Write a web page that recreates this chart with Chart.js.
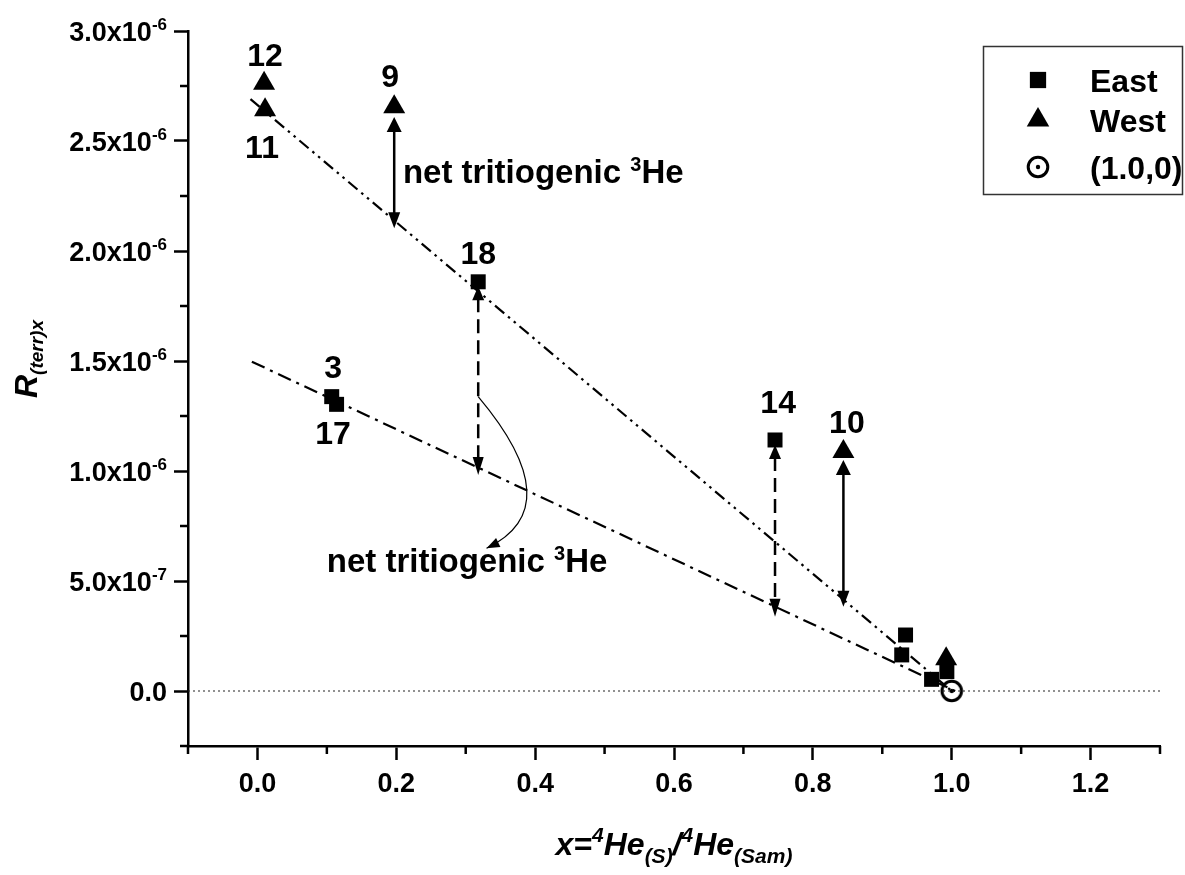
<!DOCTYPE html>
<html>
<head>
<meta charset="utf-8">
<script src="https://cdn.jsdelivr.net/npm/chart.js@4.4.0/dist/chart.umd.min.js"></script>
<style>
  html, body { margin: 0; padding: 0; background: #fff; }
</style>
</head>
<body>
<canvas id="chart" width="1185" height="875"></canvas>
<script>
const FONT = '"Liberation Sans", Arial, sans-serif';

// data
const eastX = [0.318, 0.107, 0.114, 0.7455, 0.9335, 0.928, 0.971, 0.993];
const eastY = [1.86e-6, 1.338e-6, 1.303e-6, 1.141e-6, 0.2545e-6, 0.164e-6, 0.053e-6, 0.088e-6];
const westX = [0.0096, 0.011, 0.197, 0.844, 0.992];
const westY = [2.762e-6, 2.641e-6, 2.655e-6, 1.088e-6, 0.146e-6];
const refX = [1.0];
const refY = [0];

// mixing lines
const upperLineX = [-0.01, 1.0];
const upperLineY = [2.69e-6, 0];
const lowerLineX = [-0.008, 1.005];
const lowerLineY = [1.497e-6, 0];
const zeroLineX = [-0.1, 1.3];
const zeroLineY = [0, 0];

// "net tritiogenic 3He" arrows
const solidArrowX = [0.197, 0.844];
const solidArrowTop = [2.609e-6, 1.05e-6];
const solidArrowBottom = [2.103e-6, 0.383e-6];
const dashArrowX = [0.318, 0.7455];
const dashArrowTop = [1.84e-6, 1.118e-6];
const dashArrowBottom = [0.982e-6, 0.338e-6];
const curveX = [0.318, 0.388, 0.330];
const curveY = [1.338e-6, 0.914e-6, 0.649e-6];

// sample numbers
const sampleLabels = ['12', '11', '9', '18', '3', '17', '14', '10'];
const sampleLabelX = [0.011, 0.0066, 0.191, 0.318, 0.109, 0.109, 0.750, 0.849];
const sampleLabelY = [2.891e-6, 2.473e-6, 2.80e-6, 1.995e-6, 1.473e-6, 1.177e-6, 1.314e-6, 1.223e-6];
const noteText = ['net tritiogenic ', '3', 'He'];
const noteX = [0.2096, 0.0998];
const noteY = [2.308e-6, 0.542e-6];

// axes
const xTickValues = [0, 0.2, 0.4, 0.6, 0.8, 1.0, 1.2];
const xTickLabels = ['0.0', '0.2', '0.4', '0.6', '0.8', '1.0', '1.2'];
const xMinorTicks = [-0.1, 0.1, 0.3, 0.5, 0.7, 0.9, 1.1, 1.3];
const yTickValues = [0, 0.5e-6, 1.0e-6, 1.5e-6, 2.0e-6, 2.5e-6, 3.0e-6];
const yTickLabels = ['0.0', '5.0x10', '1.0x10', '1.5x10', '2.0x10', '2.5x10', '3.0x10'];
const yTickExps = ['', '-7', '-6', '-6', '-6', '-6', '-6'];
const yMinorTicks = [-0.25e-6, 0.25e-6, 0.75e-6, 1.25e-6, 1.75e-6, 2.25e-6, 2.75e-6];

function pts(xs, ys) {
  return xs.map((x, i) => ({ x: x, y: ys[i] }));
}

// open circle with a centre dot for the (1.0,0) end member
const ring = document.createElement('canvas');
ring.width = 28;
ring.height = 28;
(function () {
  const c = ring.getContext('2d');
  c.strokeStyle = '#000';
  c.lineWidth = 3;
  c.beginPath();
  c.arc(14, 14, 9.8, 0, Math.PI * 2);
  c.stroke();
  c.fillStyle = '#000';
  c.beginPath();
  c.arc(14, 14, 2.2, 0, Math.PI * 2);
  c.fill();
})();

function arrowHead(ctx, tx, ty, dx, dy, len, half) {
  const n = Math.hypot(dx, dy);
  const ux = dx / n, uy = dy / n;
  const bx = tx - ux * len, by = ty - uy * len;
  ctx.beginPath();
  ctx.moveTo(tx, ty);
  ctx.lineTo(bx - uy * half, by + ux * half);
  ctx.lineTo(bx + uy * half, by - ux * half);
  ctx.closePath();
  ctx.fill();
}

function textWidth(ctx, parts) {
  let w = 0;
  parts.forEach(p => {
    ctx.font = p[2] + ' ' + p[1] + 'px ' + FONT;
    w += ctx.measureText(p[0]).width;
  });
  return w;
}

function richText(ctx, parts, x, y, align) {
  const w = textWidth(ctx, parts);
  let cx = x;
  if (align === 'center') cx = x - w / 2;
  if (align === 'right') cx = x - w;
  ctx.textAlign = 'left';
  ctx.textBaseline = 'alphabetic';
  parts.forEach(p => {
    ctx.font = p[2] + ' ' + p[1] + 'px ' + FONT;
    ctx.fillText(p[0], cx, y + p[3]);
    cx += ctx.measureText(p[0]).width;
  });
}

const overlay = {
  id: 'overlay',
  afterDraw(chart) {
    const ctx = chart.ctx;
    const xs = chart.scales.x, ys = chart.scales.y;
    const area = chart.chartArea;
    ctx.save();
    ctx.fillStyle = '#000';
    ctx.strokeStyle = '#000';

    // minor ticks
    ctx.lineWidth = 2.5;
    ctx.beginPath();
    xMinorTicks.forEach(v => {
      const px = xs.getPixelForValue(v);
      ctx.moveTo(px, area.bottom);
      ctx.lineTo(px, area.bottom + 8);
    });
    yMinorTicks.forEach(v => {
      const py = ys.getPixelForValue(v);
      ctx.moveTo(area.left, py);
      ctx.lineTo(area.left - 8, py);
    });
    ctx.stroke();

    // y tick labels with real superscripts
    yTickValues.forEach((v, i) => {
      const py = ys.getPixelForValue(v);
      richText(ctx, [[yTickLabels[i], 27, 'bold', 0], [yTickExps[i], 17, 'bold', -11]],
        area.left - 21, py + 9.5, 'right');
    });

    // solid double arrows
    ctx.lineWidth = 2.5;
    solidArrowX.forEach((v, i) => {
      const px = xs.getPixelForValue(v);
      const t = ys.getPixelForValue(solidArrowTop[i]);
      const b = ys.getPixelForValue(solidArrowBottom[i]);
      ctx.setLineDash([]);
      ctx.beginPath();
      ctx.moveTo(px, t + 10);
      ctx.lineTo(px, b - 10);
      ctx.stroke();
      arrowHead(ctx, px, t, 0, -1, 15, 7.5);
      arrowHead(ctx, px, b, 0, 1, 16, 6);
    });

    // dashed double arrows
    dashArrowX.forEach((v, i) => {
      const px = xs.getPixelForValue(v);
      const t = ys.getPixelForValue(dashArrowTop[i]);
      const b = ys.getPixelForValue(dashArrowBottom[i]);
      ctx.setLineDash([14, 7]);
      ctx.beginPath();
      ctx.moveTo(px, t + 12);
      ctx.lineTo(px, b - 12);
      ctx.stroke();
      ctx.setLineDash([]);
      arrowHead(ctx, px, t, 0, -1, 14, 6);
      arrowHead(ctx, px, b, 0, 1, 18, 5.5);
    });

    // curved pointer to the lower note
    const c0x = xs.getPixelForValue(curveX[0]), c0y = ys.getPixelForValue(curveY[0]);
    const c1x = xs.getPixelForValue(curveX[1]), c1y = ys.getPixelForValue(curveY[1]);
    const c2x = xs.getPixelForValue(curveX[2]), c2y = ys.getPixelForValue(curveY[2]);
    const kx = 2 * c1x - (c0x + c2x) / 2, ky = 2 * c1y - (c0y + c2y) / 2;
    ctx.lineWidth = 1.2;
    ctx.beginPath();
    ctx.moveTo(c0x, c0y);
    ctx.quadraticCurveTo(kx, ky, c2x, c2y);
    ctx.stroke();
    arrowHead(ctx, c2x, c2y, c2x - kx, c2y - ky, 13, 5);

    // sample numbers
    ctx.textAlign = 'center';
    ctx.textBaseline = 'alphabetic';
    ctx.font = 'bold 32px ' + FONT;
    sampleLabels.forEach((s, i) => {
      ctx.fillText(s, xs.getPixelForValue(sampleLabelX[i]), ys.getPixelForValue(sampleLabelY[i]) + 11.5);
    });

    // notes
    noteX.forEach((v, i) => {
      richText(ctx, [[noteText[0], 33, 'bold', 0], [noteText[1], 20, 'bold', -12], [noteText[2], 33, 'bold', 0]],
        xs.getPixelForValue(v), ys.getPixelForValue(noteY[i]), 'left');
    });

    // axis titles
    richText(ctx, [
      ['x=', 32, 'italic bold', 0], ['4', 21, 'italic bold', -13], ['He', 32, 'italic bold', 0],
      ['(S)', 21, 'italic bold', 8], ['/', 32, 'italic bold', 0], ['4', 21, 'italic bold', -13],
      ['He', 32, 'italic bold', 0], ['(Sam)', 21, 'italic bold', 8]
    ], (area.left + area.right) / 2, 855, 'center');

    ctx.save();
    ctx.translate(37, 398);
    ctx.rotate(-Math.PI / 2);
    richText(ctx, [['R', 32, 'italic bold', 0], ['(terr)x', 19, 'italic bold', 6]], 0, 0, 'left');
    ctx.restore();

    // legend
    ctx.lineWidth = 1.5;
    ctx.strokeStyle = '#333';
    ctx.strokeRect(983.5, 46.5, 199, 148);
    const legY = [80, 120, 167];
    const metas = [0, 1, 2].map(i => chart.data.datasets[i]);
    const legRadius = [11.5, 13, 11];
    metas.forEach((ds, i) => {
      ctx.fillStyle = '#000';
      ctx.strokeStyle = '#000';
      Chart.helpers.drawPoint(ctx, { pointStyle: ds.pointStyle, radius: legRadius[i], rotation: 0, borderWidth: 0 }, 1038, legY[i]);
      ctx.font = 'bold 32px ' + FONT;
      ctx.textAlign = 'left';
      ctx.textBaseline = 'alphabetic';
      ctx.fillText(ds.label, 1090, legY[i] + 11.5);
    });
    ctx.restore();
  }
};

new Chart(document.getElementById('chart'), {
  type: 'scatter',
  data: {
    datasets: [
      { label: 'East', data: pts(eastX, eastY), pointStyle: 'rect', pointRadius: 10.6,
        backgroundColor: '#000', borderColor: '#000', borderWidth: 0 },
      { label: 'West', data: pts(westX, westY), pointStyle: 'triangle', pointRadius: 12.7,
        backgroundColor: '#000', borderColor: '#000', borderWidth: 0 },
      { label: '(1.0,0)', data: pts(refX, refY), pointStyle: ring, pointRadius: 12 },
      { label: 'upper', data: pts(upperLineX, upperLineY), showLine: true, pointRadius: 0,
        borderColor: '#000', borderWidth: 2.2, borderDash: [12, 5, 2.5, 5, 2.5, 5] },
      { label: 'lower', data: pts(lowerLineX, lowerLineY), showLine: true, pointRadius: 0,
        borderColor: '#000', borderWidth: 2.2, borderDash: [14, 6, 3, 6] },
      { label: 'zero', data: pts(zeroLineX, zeroLineY), showLine: true, pointRadius: 0,
        borderColor: '#222', borderWidth: 1, borderDash: [2, 3] }
    ]
  },
  options: {
    responsive: false,
    animation: false,
    devicePixelRatio: 1,
    layout: { padding: { top: 31, right: 25, left: 0, bottom: 0 } },
    plugins: { legend: { display: false }, tooltip: { enabled: false } },
    scales: {
      x: {
        type: 'linear', min: -0.1, max: 1.3,
        afterBuildTicks: s => { s.ticks = xTickValues.map(v => ({ value: v })); },
        afterFit: s => { s.height = 129; },
        ticks: { callback: (v, i) => xTickLabels[i], color: '#000', padding: 8, autoSkip: false, maxRotation: 0,
                 font: { family: FONT, size: 27, weight: 'bold' } },
        grid: { drawOnChartArea: false, drawTicks: true, tickLength: 14, tickWidth: 2.5, tickColor: '#000' },
        border: { display: true, width: 2.5, color: '#000' }
      },
      y: {
        type: 'linear', min: -0.25e-6, max: 3.0e-6,
        afterBuildTicks: s => { s.ticks = yTickValues.map(v => ({ value: v })); },
        afterFit: s => { s.width = 188; },
        ticks: { display: false },
        grid: { drawOnChartArea: false, drawTicks: true, tickLength: 14, tickWidth: 2.5, tickColor: '#000' },
        border: { display: true, width: 2.5, color: '#000' }
      }
    }
  },
  plugins: [overlay]
});
</script>
</body>
</html>
